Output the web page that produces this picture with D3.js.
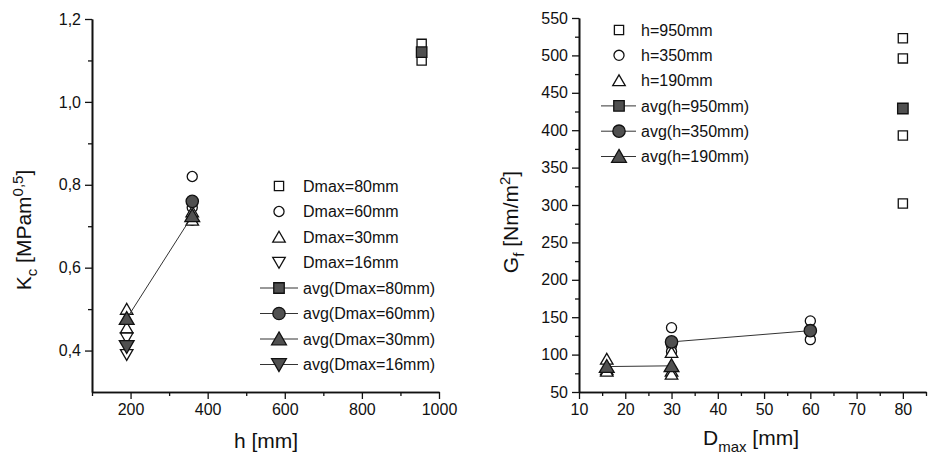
<!DOCTYPE html>
<html>
<head>
<meta charset="utf-8">
<script src="https://cdn.jsdelivr.net/npm/d3@7"></script>
<style>
  html, body { margin: 0; padding: 0; background: #fff; }
  svg { display: block; font-family: "Liberation Sans", Arial, sans-serif; }
  .tick text { font-size: 16px; fill: #111; }
</style>
</head>
<body>
<svg id="chart" width="935" height="459"></svg>
<script>
// ---------- Left chart data: Kc vs h ----------
const kcXTicks = [200, 400, 600, 800, 1000];
const kcXMinor = [100, 300, 500, 700, 900];
const kcYTicks = [0.4, 0.6, 0.8, 1.0, 1.2];
const kcYMinor = [0.5, 0.7, 0.9, 1.1];
const kcLegend = ["Dmax=80mm", "Dmax=60mm", "Dmax=30mm", "Dmax=16mm",
                  "avg(Dmax=80mm)", "avg(Dmax=60mm)", "avg(Dmax=30mm)", "avg(Dmax=16mm)"];
const kcD80 = [[955, 1.14], [955, 1.10]];
const kcD60 = [[360, 0.82], [360, 0.745], [360, 0.715]];
const kcD30 = [[190, 0.50], [190, 0.455], [360, 0.735], [360, 0.715]];
const kcD16 = [[190, 0.43], [190, 0.39]];
const kcAvgD80 = [[955, 1.12]];
const kcAvgD60 = [[360, 0.76]];
const kcAvgD30 = [[190, 0.477], [360, 0.725]];
const kcAvgD16 = [[190, 0.41]];

// ---------- Right chart data: Gf vs Dmax ----------
const gfXTicks = [10, 20, 30, 40, 50, 60, 70, 80];
const gfXMinor = [15, 25, 35, 45, 55, 65, 75, 85];
const gfYTicks = [50, 100, 150, 200, 250, 300, 350, 400, 450, 500, 550];
const gfYMinor = [75, 125, 175, 225, 275, 325, 375, 425, 475, 525];
const gfLegend = ["h=950mm", "h=350mm", "h=190mm",
                  "avg(h=950mm)", "avg(h=350mm)", "avg(h=190mm)"];
const gfH950 = [[80, 523], [80, 496], [80, 393], [80, 302]];
const gfH350 = [[30, 136], [30, 112], [30, 104], [60, 145], [60, 120]];
const gfH190 = [[16, 94], [16, 80], [16, 78], [30, 103], [30, 78], [30, 74]];
const gfAvgH950 = [[80, 429]];
const gfAvgH350 = [[30, 117], [60, 132]];
const gfAvgH190 = [[16, 84], [30, 85]];

// ---------- drawing ----------
const svg = d3.select("#chart");
const INK = "#111";
const FILL = "#505050";
const comma = v => d3.format(".1f")(v).replace(".", ",");

const shapes = {
  square: d3.symbol().type(d3.symbolSquare),
  circle: d3.symbol().type(d3.symbolCircle),
  up: d3.symbol().type(d3.symbolTriangle),
  down: d3.symbol().type(d3.symbolTriangle)
};
function drawMarker(g, shape, filled, cx, cy) {
  const size = filled ? (shape === "square" ? 110 : shape === "circle" ? 120 : 95)
                      : (shape === "square" ? 85 : shape === "circle" ? 80 : 68);
  const rot = shape === "down" ? 180 : 0;
  const dy = shape === "up" ? 1.5 : shape === "down" ? -1.5 : 0;
  g.append("path")
    .attr("d", shapes[shape].size(size)())
    .attr("transform", `translate(${cx},${cy + dy}) rotate(${rot})`)
    .attr("fill", filled ? FILL : "#fff")
    .attr("stroke", INK)
    .attr("stroke-width", 1.3);
}

function drawAxes(x, y, xt, xm, yt, ym, yfmt) {
  const g = svg.append("g");
  const [y0] = y.range();
  const [x0] = x.range();
  g.append("g").attr("transform", `translate(0,${y0})`)
    .call(d3.axisBottom(x).tickValues(xm).tickSize(4).tickSizeOuter(0).tickFormat(""));
  g.append("g").attr("transform", `translate(0,${y0})`)
    .call(d3.axisBottom(x).tickValues(xt).tickSize(7).tickSizeOuter(0).tickPadding(5).tickFormat(d3.format("d")));
  g.append("g").attr("transform", `translate(${x0},0)`)
    .call(d3.axisLeft(y).tickValues(ym).tickSize(4).tickSizeOuter(0).tickFormat(""));
  g.append("g").attr("transform", `translate(${x0},0)`)
    .call(d3.axisLeft(y).tickValues(yt).tickSize(7).tickSizeOuter(0).tickPadding(4).tickFormat(yfmt));
  g.selectAll(".domain").attr("stroke", INK).attr("stroke-width", 1.6);
  g.selectAll(".tick line").attr("stroke", INK).attr("stroke-width", 1.3);
  g.selectAll(".tick text").attr("fill", INK).style("font-size", "16px");
  return g;
}

function drawSeries(x, y, pts, shape, filled, withLine) {
  const g = svg.append("g");
  if (withLine && pts.length > 1) {
    g.append("path")
      .attr("d", d3.line().x(d => x(d[0])).y(d => y(d[1]))(pts))
      .attr("fill", "none").attr("stroke", "#333").attr("stroke-width", 1);
  }
  pts.forEach(d => drawMarker(g, shape, filled, x(d[0]), y(d[1])));
}

function drawLegend(labels, shapesList, filledList, symX, textX, rowY0, rowStep, lineX0, lineX1) {
  const g = svg.append("g");
  labels.forEach((lab, i) => {
    const yy = rowY0 + i * rowStep;
    if (filledList[i]) {
      g.append("line").attr("x1", lineX0).attr("x2", lineX1).attr("y1", yy).attr("y2", yy)
        .attr("stroke", "#333").attr("stroke-width", 1);
    }
    drawMarker(g, shapesList[i], filledList[i], symX, yy);
    g.append("text").attr("x", textX).attr("y", yy).attr("dy", "0.36em")
      .attr("fill", INK).style("font-size", "16px").text(lab);
  });
}

// ----- Left chart -----
const xL = d3.scaleLinear().domain([100, 1000]).range([92, 439]);
const yL = d3.scaleLinear().domain([0.3, 1.2]).range([392, 19]);
drawAxes(xL, yL, kcXTicks, kcXMinor, kcYTicks, kcYMinor, comma);

drawSeries(xL, yL, kcD80, "square", false, false);
drawSeries(xL, yL, kcD60, "circle", false, false);
drawSeries(xL, yL, kcD30, "up", false, false);
drawSeries(xL, yL, kcD16, "down", false, false);
drawSeries(xL, yL, kcAvgD30, "up", true, true);
drawSeries(xL, yL, kcAvgD16, "down", true, true);
drawSeries(xL, yL, kcAvgD80, "square", true, true);
drawSeries(xL, yL, kcAvgD60, "circle", true, true);

drawLegend(kcLegend,
  ["square", "circle", "up", "down", "square", "circle", "up", "down"],
  [false, false, false, false, true, true, true, true],
  279, 303, 186, 25.5, 260, 298);

const tL = svg.append("text")
  .attr("transform", "translate(31,230) rotate(-90)")
  .attr("text-anchor", "middle").attr("fill", INK).style("font-size", "21px");
tL.append("tspan").text("K");
tL.append("tspan").attr("dy", 6).style("font-size", "15px").text("c");
tL.append("tspan").attr("dy", -6).text(" [MPam");
tL.append("tspan").attr("dy", -8).style("font-size", "15px").text("0,5");
tL.append("tspan").attr("dy", 8).text("]");

svg.append("text").attr("x", 266).attr("y", 448).attr("text-anchor", "middle")
  .attr("fill", INK).style("font-size", "21px").text("h [mm]");

// ----- Right chart -----
const xR = d3.scaleLinear().domain([10, 85]).range([579, 926]);
const yR = d3.scaleLinear().domain([50, 550]).range([392, 18]);
drawAxes(xR, yR, gfXTicks, gfXMinor, gfYTicks, gfYMinor, d3.format("d"));

drawSeries(xR, yR, gfH950, "square", false, false);
drawSeries(xR, yR, gfH350, "circle", false, false);
drawSeries(xR, yR, gfH190, "up", false, false);
drawSeries(xR, yR, gfAvgH950, "square", true, true);
drawSeries(xR, yR, gfAvgH190, "up", true, true);
drawSeries(xR, yR, gfAvgH350, "circle", true, true);

drawLegend(gfLegend,
  ["square", "circle", "up", "square", "circle", "up"],
  [false, false, false, true, true, true],
  619, 641, 30, 25.3, 601, 636);

const tR = svg.append("text")
  .attr("transform", "translate(518,222) rotate(-90)")
  .attr("text-anchor", "middle").attr("fill", INK).style("font-size", "21px");
tR.append("tspan").text("G");
tR.append("tspan").attr("dy", 6).style("font-size", "15px").text("f");
tR.append("tspan").attr("dy", -6).text(" [Nm/m");
tR.append("tspan").attr("dy", -8).style("font-size", "15px").text("2");
tR.append("tspan").attr("dy", 8).text("]");

const tX = svg.append("text").attr("x", 703).attr("y", 445)
  .attr("fill", INK).style("font-size", "21px");
tX.append("tspan").text("D");
tX.append("tspan").attr("dy", 7).style("font-size", "15px").text("max");
tX.append("tspan").attr("dy", -7).text(" [mm]");
</script>
</body>
</html>
